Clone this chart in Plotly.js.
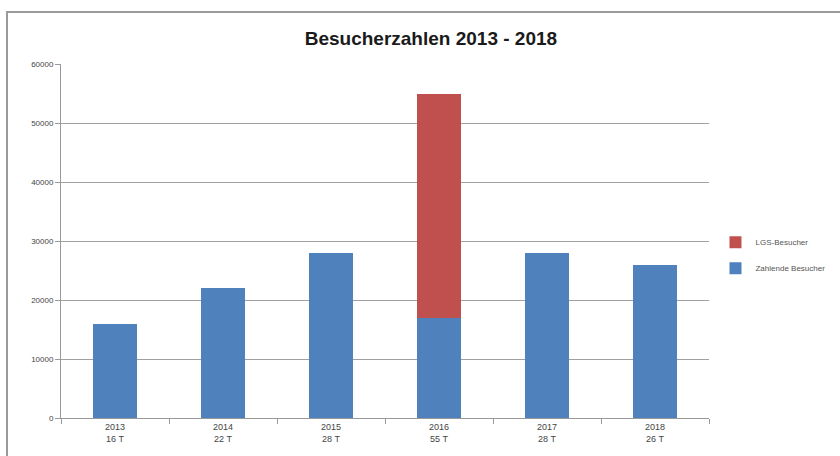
<!DOCTYPE html>
<html><head><meta charset="utf-8">
<script src="https://cdn.plot.ly/plotly-3.0.1.min.js"></script>
<style>
html,body{margin:0;padding:0;background:#fff;}
#frame{position:absolute;left:6px;top:11px;width:850px;height:460px;border:2px solid #9a9a9a;box-sizing:border-box;pointer-events:none;z-index:5;}
#chart{position:absolute;left:0;top:0;width:840px;height:456px;}
</style></head>
<body>
<div id="chart"></div>
<div id="frame"></div>
<script>
const years = ["2013","2014","2015","2016","2017","2018"];
const totalsLabel = ["16 T","22 T","28 T","55 T","28 T","26 T"];
const zahlende = [16000, 22000, 28000, 17000, 28000, 26000];
const lgs = [0, 0, 0, 38000, 0, 0];
const yTicks = [0, 10000, 20000, 30000, 40000, 50000, 60000];

const cats = years.map((y,i)=> y + "<br>" + totalsLabel[i]);

const data = [
  {type:"bar", name:"Zahlende Besucher", x:cats, y:zahlende, marker:{color:"#4F81BD"}, legendgroup:"z", legendrank:2},
  {type:"bar", name:"LGS-Besucher", x:cats, y:lgs, marker:{color:"#C0504D"}, legendgroup:"l", legendrank:1}
];

const layout = {
  width:840, height:456,
  margin:{l:61, r:131, t:64, b:38, autoexpand:false},
  paper_bgcolor:"#fff", plot_bgcolor:"#fff",
  barmode:"stack", bargap:0.59,
  title:{text:"<b>Besucherzahlen 2013 - 2018</b>", x:0.513, xanchor:"center", y:0.915, yanchor:"middle",
         font:{family:"Liberation Sans, Arial, sans-serif", size:19, color:"#1a1a1a"}},
  xaxis:{type:"category", showline:true, linecolor:"#999", linewidth:1,
         ticks:"outside", ticklen:5, tickcolor:"#999", tickson:"boundaries",
         tickfont:{family:"Liberation Sans, sans-serif", size:9, color:"#444"}},
  yaxis:{range:[0,60000], tickvals:yTicks, tickformat:"d", showline:true, linecolor:"#999", linewidth:1,
         ticks:"outside", ticklen:5, tickcolor:"#999",
         gridcolor:"#a0a0a0", gridwidth:1, zeroline:false,
         tickfont:{family:"Liberation Sans, sans-serif", size:8, color:"#444"}},
  legend:{x:1.01, y:0.46, xanchor:"left", yanchor:"middle", traceorder:"grouped",
          font:{family:"Liberation Sans, sans-serif", size:8, color:"#555"},
          itemwidth:30, tracegroupgap:7},
  showlegend:true
};
Plotly.newPlot("chart", data, layout, {displayModeBar:false, staticPlot:true});
</script>
</body></html>
